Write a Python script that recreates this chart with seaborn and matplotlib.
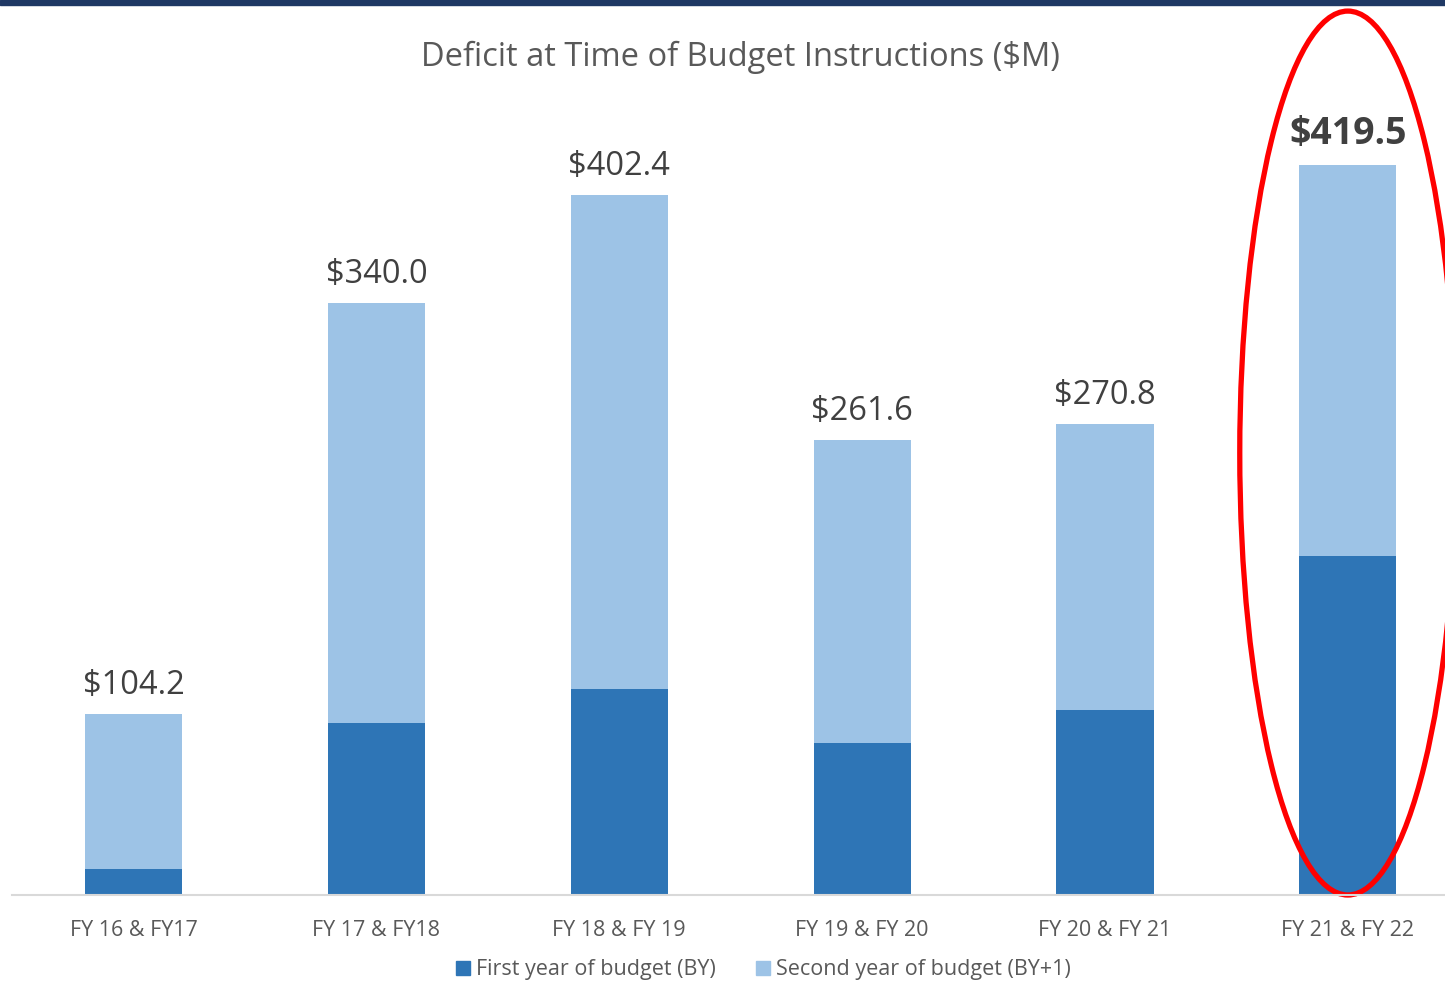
import matplotlib
matplotlib.use("Agg")
import matplotlib.pyplot as plt
import seaborn as sns
import pandas as pd
from matplotlib.patches import Ellipse, Rectangle
from matplotlib.lines import Line2D

# values ($M)
periods = ["FY 16 & FY17", "FY 17 & FY18", "FY 18 & FY 19", "FY 19 & FY 20", "FY 20 & FY 21", "FY 21 & FY 22"]
totals = [104.2, 340.0, 402.4, 261.6, 270.8, 419.5]
first_year = [15.0, 99.0, 118.5, 87.5, 106.5, 195.0]
series_names = ["First year of budget (BY)", "Second year of budget (BY+1)"]

dark_blue = "#2E75B6"
light_blue = "#9DC3E6"

sns.set_style("white")
plt.rcParams['font.family'] = ['Open Sans', 'DejaVu Sans']

df = pd.DataFrame({"period": periods, "total": totals, "first": first_year})

W, H = 1445, 983
fig = plt.figure(figsize=(W / 100, H / 100), dpi=100)
# axes placed in pixels: left 12, bottom baseline at y=895, top at 112
ax = fig.add_axes([12 / W, (H - 895) / H, (W - 12) / W, (895 - 112) / H])

sns.barplot(data=df, x="period", y="total", color=light_blue, width=0.4,
            saturation=1, linewidth=0, ax=ax)
sns.barplot(data=df, x="period", y="first", color=dark_blue, width=0.4,
            saturation=1, linewidth=0, ax=ax)

ax.set_xlim(-0.5, 5.4)
ax.set_ylim(0, 450)
ax.set_xlabel("")
ax.set_ylabel("")
ax.set_yticks([])
for s in ["top", "right", "left"]:
    ax.spines[s].set_visible(False)
ax.spines["bottom"].set_color("#D9D9D9")
ax.spines["bottom"].set_linewidth(1.5)
ax.tick_params(axis="x", length=0, pad=18, labelsize=15.5, labelcolor="#595959")

for i, t in enumerate(totals):
    last = i == len(totals) - 1
    ax.text(i, t + 7, f"${t:.1f}", ha="center", va="bottom",
            fontsize=27 if last else 23.5, color="#404040",
            fontweight="bold" if last else "normal")

# red ellipse around the last bar
ax.add_patch(Ellipse((5.0, 254), width=0.89, height=508, fill=False,
                     edgecolor="#FF0000", linewidth=3.8, clip_on=False))

fig.text(740 / W, 1 - 57 / H, "Deficit at Time of Budget Instructions ($M)",
         ha="center", va="center", fontsize=23.5, color="#595959")

handles = [Line2D([], [], marker="s", linestyle="", markersize=10, color=c) for c in (dark_blue, light_blue)]
fig.legend(handles, series_names, loc="center", bbox_to_anchor=(763 / W, 1 - 970 / H),
           ncol=2, frameon=False, fontsize=15.5, labelcolor="#595959",
           handlelength=0.8, handletextpad=0.2, columnspacing=1.8)

# dark band across the top
fig.patches.append(Rectangle((0, 1 - 5 / H), 1, 5 / H, transform=fig.transFigure,
                             color="#1F3864", zorder=10))

fig.savefig("out.png", dpi=100)
